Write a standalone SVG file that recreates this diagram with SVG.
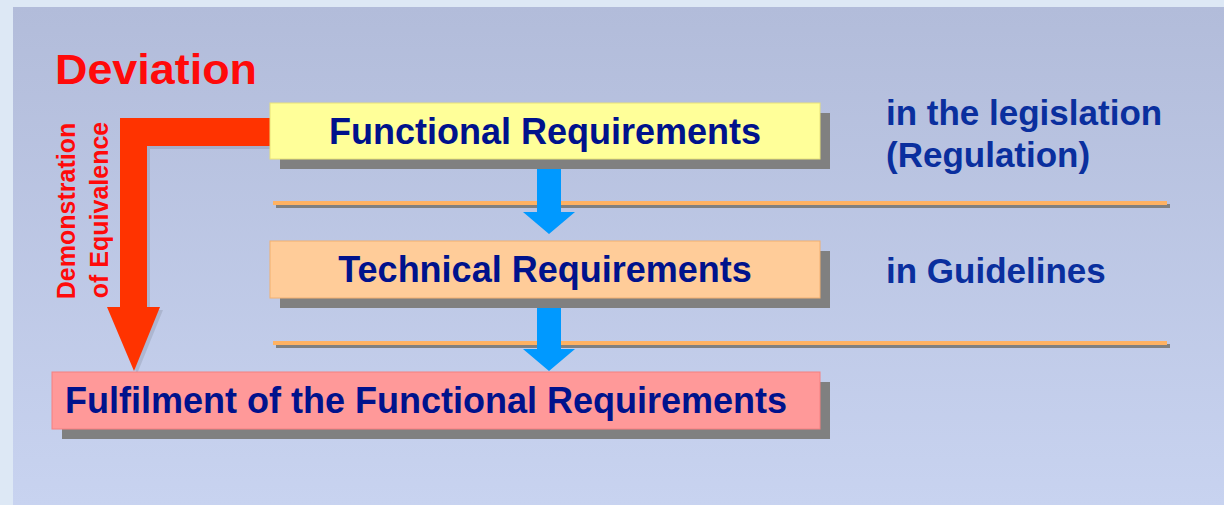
<svg xmlns="http://www.w3.org/2000/svg" width="1224" height="505" viewBox="0 0 1224 505">
  <defs>
    <linearGradient id="panel" x1="0" y1="0" x2="0" y2="1">
      <stop offset="0" stop-color="#b2bcda"/>
      <stop offset="1" stop-color="#c8d3f0"/>
    </linearGradient>
  </defs>
  <style>
    .shadow { fill: #808080; }
    .boxtext { font-family: "Liberation Sans", Arial, sans-serif; font-weight: bold; font-size: 36px; fill: #00128c; }
    .side { font-family: "Liberation Sans", Arial, sans-serif; font-weight: bold; font-size: 35px; fill: #0a2f9e; }
    .red { font-family: "Liberation Sans", Arial, sans-serif; font-weight: bold; fill: #ff0a0a; }
    .blue { fill: #0099ff; }
    .orange { fill: #ffb262; }
  </style>

  <rect x="0" y="0" width="1224" height="505" fill="#dde8f5"/>
  <rect x="13" y="7" width="1211" height="498" fill="url(#panel)"/>

  <g id="dividers">
    <rect class="shadow" x="276" y="204" width="894" height="4"/>
    <rect class="orange" x="273" y="201" width="894" height="4"/>
    <rect class="shadow" x="276" y="344" width="894" height="4"/>
    <rect class="orange" x="273" y="341" width="894" height="4"/>
  </g>

  <g id="connectors">
    <path d="M275,121 L123,121 L123,310 L110,310 L137,374 L163,310 L150,310 L150,149 L275,149 Z" fill="#000" opacity="0.1"/>
    <path d="M272,118 L120,118 L120,307 L107,307 L134,371 L160,307 L147,307 L147,146 L272,146 Z" fill="#ff3300"/>
    <path class="blue" d="M537,168 L561,168 L561,212 L575,212 L549,234 L523,212 L537,212 Z"/>
    <path class="blue" d="M537,307 L561,307 L561,349 L575,349 L549,371 L523,349 L537,349 Z"/>
  </g>

  <g id="deviation">
    <text class="red" x="55" y="84" font-size="42" textLength="202" lengthAdjust="spacingAndGlyphs">Deviation</text>
  </g>

  <g id="equivalence-label">
    <text class="red" font-size="25" text-anchor="middle" transform="translate(75,211) rotate(-90)">Demonstration</text>
    <text class="red" font-size="25" text-anchor="middle" transform="translate(108,210) rotate(-90)">of Equivalence</text>
  </g>

  <g id="functional">
    <rect class="shadow" x="280" y="113" width="550" height="56"/>
    <rect x="270" y="103" width="550" height="56" fill="#ffff99" stroke="#e8e27a" stroke-width="1"/>
    <text class="boxtext" x="545" y="144" text-anchor="middle">Functional Requirements</text>
  </g>

  <g id="technical">
    <rect class="shadow" x="280" y="251" width="550" height="57"/>
    <rect x="270" y="241" width="550" height="57" fill="#ffcc99" stroke="#f2b070" stroke-width="1"/>
    <text class="boxtext" x="545" y="282" text-anchor="middle">Technical Requirements</text>
  </g>

  <g id="fulfilment">
    <rect class="shadow" x="62" y="382" width="768" height="57"/>
    <rect x="52" y="372" width="768" height="57" fill="#ff9999" stroke="#f58080" stroke-width="1"/>
    <text class="boxtext" x="65" y="413">Fulfilment of the Functional Requirements</text>
  </g>

  <g id="legislation">
    <text class="side" x="886" y="125">in the legislation</text>
    <text class="side" x="886" y="167">(Regulation)</text>
  </g>

  <g id="guidelines">
    <text class="side" x="886" y="283">in Guidelines</text>
  </g>
</svg>
